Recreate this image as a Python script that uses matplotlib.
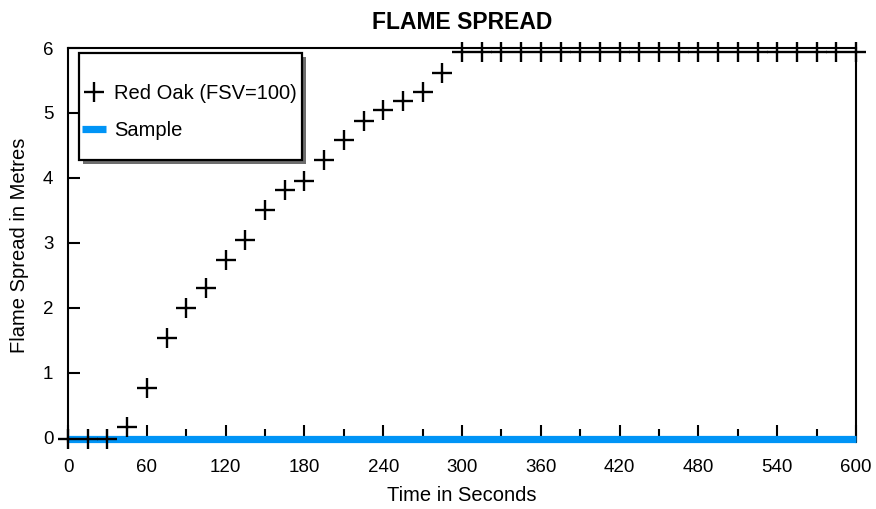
import numpy as np
import matplotlib
matplotlib.use('Agg')
import matplotlib.pyplot as plt
from matplotlib.patches import Rectangle
from matplotlib.ticker import MultipleLocator

plt.rcParams['font.family'] = ['Liberation Sans', 'DejaVu Sans']

# Red Oak reference (FSV=100), one reading every 15 s
oak_time = [0, 15, 30, 45, 60, 75, 90, 105, 120, 135, 150, 165, 180, 195, 210,
            225, 240, 255, 270, 285, 300, 315, 330, 345, 360, 375, 390, 405,
            420, 435, 450, 465, 480, 495, 510, 525, 540, 555, 570, 585, 600]
oak_spread = [-0.02, -0.02, -0.02, 0.16, 0.76, 1.53, 2.00, 2.31, 2.74, 3.05,
              3.50, 3.81, 3.95, 4.28, 4.58, 4.88, 5.04, 5.19, 5.32, 5.62,
              5.94, 5.94, 5.94, 5.94, 5.94, 5.94, 5.94, 5.94, 5.94, 5.94,
              5.94, 5.94, 5.94, 5.94, 5.94, 5.94, 5.94, 5.94, 5.94, 5.94, 5.94]

# Sample: no flame spread
sample_time = [0, 600]
sample_spread = [-0.02, -0.02]

x_ticks = [0, 60, 120, 180, 240, 300, 360, 420, 480, 540, 600]
y_ticks = [0, 1, 2, 3, 4, 5, 6]

W, H = 876, 509
fig = plt.figure(figsize=(W / 100, H / 100), dpi=100)
ax = fig.add_axes([68/W, 1 - 442/H, 788/W, 394/H])

ax.plot(sample_time, sample_spread, color='#0094F6', lw=5.2, solid_capstyle='butt',
        label='Sample', zorder=3, clip_on=False)
ax.plot(oak_time, oak_spread, ls='none', marker='+', ms=14, mew=1.7, color='black',
        label='Red Oak (FSV=100)', zorder=4, clip_on=False)

ax.set_xlim(0, 600)
ax.set_ylim(-0.065, 6)
ax.set_xticks(x_ticks)
ax.set_yticks(y_ticks)
ax.xaxis.set_minor_locator(MultipleLocator(30))
ax.tick_params(axis='x', which='major', direction='in', length=12.5, width=1.5,
               pad=12.5, labelsize=13.5)
ax.tick_params(axis='x', which='minor', direction='in', length=9.5, width=1.5)
ax.tick_params(axis='y', which='major', direction='in', length=8.5, width=1.5,
               pad=10.5, labelsize=13.5)
for side in ['left', 'right', 'top']:
    ax.spines[side].set_linewidth(1.5)
ax.spines['bottom'].set_visible(False)

ax.set_xlabel('Time in Seconds', fontsize=14.5, labelpad=7)
ax.set_ylabel('Flame Spread in Metres', fontsize=14.5, labelpad=10)
ax.set_title('FLAME SPREAD', fontsize=16.5, fontweight='bold', pad=14)

# legend box with drop shadow
fig.patches.append(Rectangle((83/W, 1 - 164/H), 223/W, 107/H, transform=fig.transFigure,
                             facecolor='#6e6e6e', edgecolor='none', zorder=4))
fig.patches.append(Rectangle((79/W, 1 - 160/H), 223/W, 107/H, transform=fig.transFigure,
                             facecolor='white', edgecolor='black', lw=1.6, zorder=4.5))

handles, labels = ax.get_legend_handles_labels()
leg = fig.legend(handles[::-1], labels[::-1], loc='upper left',
                 bbox_to_anchor=(82/W, 1 - 84/H), fontsize=14.5,
                 frameon=False, borderpad=0, labelspacing=0.9,
                 handlelength=1.2, handletextpad=0.4, borderaxespad=0)

fig.savefig('out.png', dpi=100)
